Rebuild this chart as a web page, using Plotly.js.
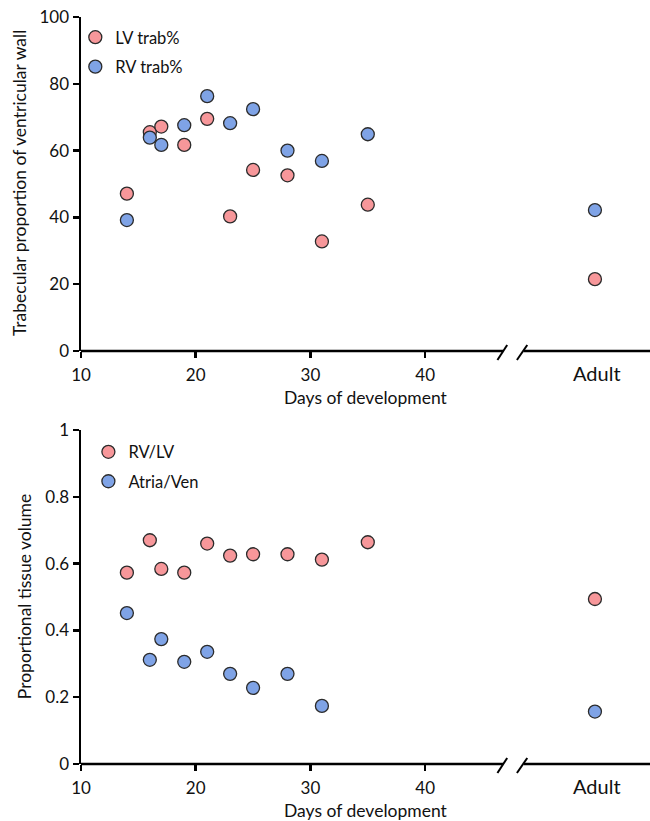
<!DOCTYPE html>
<html>
<head>
<meta charset="utf-8">
<script src="https://cdn.plot.ly/plotly-3.0.1.min.js"></script>
<style>html,body{margin:0;padding:0;background:#fff;}#chart{width:650px;height:821px;}</style>
</head>
<body>
<div id="chart"></div>
<script>
// ---- data ----
const dayLabels = ['14','16','17','19','21','23','25','28','31','35','Adult'];
const lvTrab   = [47.1, 65.5, 67.2, 61.7, 69.5, 40.3, 54.2, 52.6, 32.8, 43.8, 21.5];
const rvTrab   = [39.2, 63.9, 61.7, 67.6, 76.3, 68.2, 72.4, 60.0, 56.9, 64.9, 42.2];
const rvLv     = [0.573, 0.670, 0.584, 0.573, 0.660, 0.624, 0.628, 0.628, 0.612, 0.664, 0.494];
const atriaVen = [0.452, 0.312, 0.374, 0.306, 0.336, 0.270, 0.228, 0.270, 0.174, null, 0.157];
const xTickVals = [10, 20, 30, 40];
const xTickText = ['10', '20', '30', '40'];
const adultLabel = 'Adult';

// ---- layout constants ----
const ADULT_X = 54.8;
const X_RANGE = [10, 59.6];
const BREAK_L = 46.8, BREAK_R = 48.6;
const xs = dayLabels.map(d => d === adultLabel ? ADULT_X : Number(d));

const PINK = '#F7979A', BLUE = '#7FA3E6', EDGE = '#2b2b2b';
const FONT = 'Lato, "Open Sans", sans-serif';

function mk(color) { return {size: 13, color: color, line: {color: EDGE, width: 1.3}}; }

const traces = [
  {x: xs, y: lvTrab, name: 'LV trab%', type: 'scatter', mode: 'markers', marker: mk(PINK), xaxis: 'x', yaxis: 'y', legend: 'legend', legendgroup: 'a'},
  {x: xs, y: rvTrab, name: 'RV trab%', type: 'scatter', mode: 'markers', marker: mk(BLUE), xaxis: 'x', yaxis: 'y', legend: 'legend', legendgroup: 'b'},
  {x: xs, y: rvLv, name: 'RV/LV', type: 'scatter', mode: 'markers', marker: mk(PINK), xaxis: 'x2', yaxis: 'y2', legend: 'legend2', legendgroup: 'c'},
  {x: xs, y: atriaVen, name: 'Atria/Ven', type: 'scatter', mode: 'markers', marker: mk(BLUE), xaxis: 'x2', yaxis: 'y2', legend: 'legend2', legendgroup: 'd'}
];

const tickFont = {family: FONT, size: 17, color: '#111'};
function xAxis(anchor) {
  return {
    anchor: anchor, range: X_RANGE, showline: false, zeroline: false, showgrid: false,
    tickmode: 'array', tickvals: xTickVals, ticktext: xTickText,
    ticks: 'outside', ticklen: 6, tickwidth: 2.5, tickcolor: '#000',
    ticklabelstandoff: 3,
    tickfont: tickFont, fixedrange: true
  };
}
function yAxis(anchor, domain, range, dtick) {
  return {
    anchor: anchor, domain: domain, range: range, dtick: dtick, tick0: 0,
    showline: true, linewidth: 2.5, linecolor: '#000', zeroline: false, showgrid: false,
    ticks: 'outside', ticklen: 6, tickwidth: 2.5, tickcolor: '#000',
    tickfont: tickFont, fixedrange: true
  };
}

function axisBreakShapes(xr, yr) {
  const base = {type: 'line', xref: xr, line: {color: '#000', width: 2.5}};
  const ydom = yr + ' domain';
  return [
    Object.assign({}, base, {yref: ydom, x0: X_RANGE[0], x1: BREAK_L, y0: 0, y1: 0}),
    Object.assign({}, base, {yref: ydom, x0: BREAK_R, x1: X_RANGE[1], y0: 0, y1: 0}),
    Object.assign({}, base, {yref: ydom, ysizemode: 'pixel', yanchor: 0, x0: 46.3, x1: 47.15, y0: -9, y1: 6, line: {color: '#000', width: 2}}),
    Object.assign({}, base, {yref: ydom, ysizemode: 'pixel', yanchor: 0, x0: 48.0, x1: 48.9, y0: -9, y1: 6, line: {color: '#000', width: 2}})
  ];
}

const titleFont = {family: FONT, size: 17.5, color: '#111'};
const annotations = [
  {xref: 'paper', yref: 'paper', x: 0.5, y: 0.49, text: 'Days of development', showarrow: false, font: titleFont, xanchor: 'center', yanchor: 'middle'},
  {xref: 'paper', yref: 'paper', x: 0.5, y: -0.062, text: 'Days of development', showarrow: false, font: titleFont, xanchor: 'center', yanchor: 'middle'},
  {xref: 'x', yref: 'paper', x: ADULT_X + 0.2, y: 0.523, text: adultLabel, showarrow: false, font: {family: FONT, size: 20, color: '#111'}, xanchor: 'center', yanchor: 'middle'},
  {xref: 'x2', yref: 'paper', x: ADULT_X + 0.2, y: -0.029, text: adultLabel, showarrow: false, font: {family: FONT, size: 20, color: '#111'}, xanchor: 'center', yanchor: 'middle'},
  {xref: 'paper', yref: 'paper', x: -0.107, y: 0.7778, text: 'Trabecular proportion of ventricular wall', textangle: -90, showarrow: false, font: titleFont, xanchor: 'center', yanchor: 'middle'},
  {xref: 'paper', yref: 'paper', x: -0.098, y: 0.2236, text: 'Proportional tissue volume', textangle: -90, showarrow: false, font: titleFont, xanchor: 'center', yanchor: 'middle'}
];

const legendFont = {family: FONT, size: 16.5, color: '#111'};
const layout = {
  width: 650, height: 821,
  margin: {l: 81, r: 0, t: 17, b: 57},
  paper_bgcolor: '#fff', plot_bgcolor: '#fff',
  font: {family: FONT},
  showlegend: true,
  xaxis: xAxis('y'),
  yaxis: yAxis('x', [0.5529, 1], [0, 100], 20),
  xaxis2: xAxis('y2'),
  yaxis2: yAxis('x2', [0, 0.4471], [0, 1], 0.2),
  legend: {x: -0.01, y: 0.996, xanchor: 'left', yanchor: 'top', bgcolor: 'rgba(0,0,0,0)', font: legendFont, tracegroupgap: 5, itemclick: false},
  legend2: {x: 0.013, y: 0.441, xanchor: 'left', yanchor: 'top', bgcolor: 'rgba(0,0,0,0)', font: legendFont, tracegroupgap: 5, itemclick: false},
  shapes: axisBreakShapes('x', 'y').concat(axisBreakShapes('x2', 'y2')),
  annotations: annotations
};

Plotly.newPlot('chart', traces, layout, {staticPlot: true, displayModeBar: false});
</script>
</body>
</html>
